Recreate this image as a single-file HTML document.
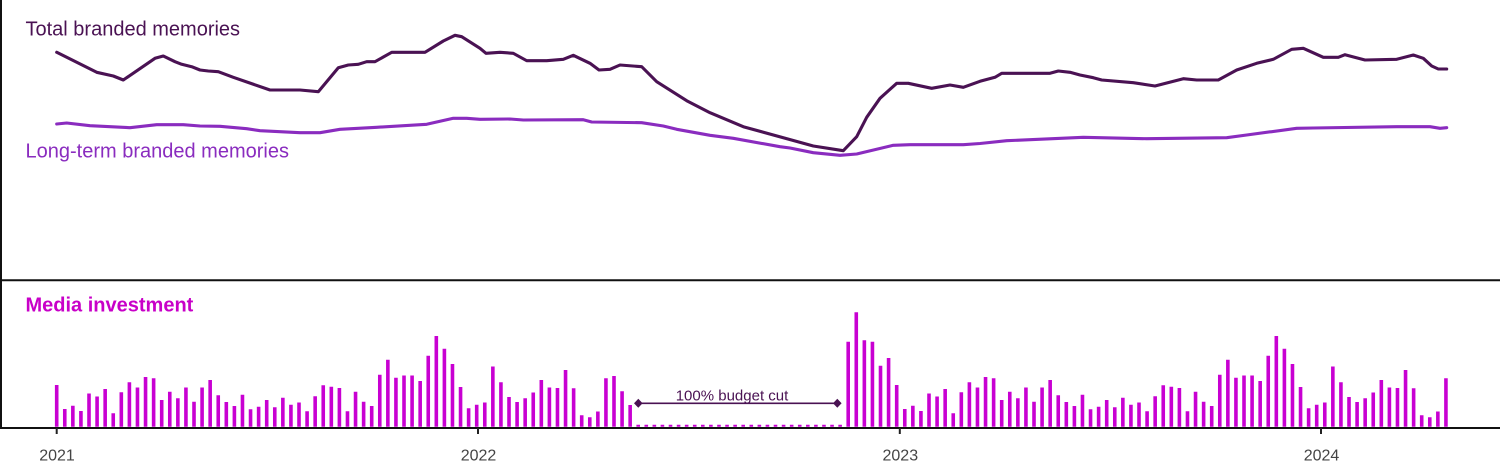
<!DOCTYPE html>
<html>
<head>
<meta charset="utf-8">
<style>
  html, body { margin: 0; padding: 0; background: #ffffff; }
  body { width: 1500px; height: 473px; overflow: hidden; }
  svg { display: block; }
  text { font-family: "Liberation Sans", Arial, sans-serif; }
</style>
</head>
<body>
<svg width="1500" height="473" viewBox="0 0 1500 473" xmlns="http://www.w3.org/2000/svg">
  <rect x="0" y="0" width="1500" height="473" fill="#ffffff"/>

  <line x1="1" y1="0" x2="1" y2="428" stroke="#111" stroke-width="2"/>
  <line x1="0" y1="280.3" x2="1500" y2="280.3" stroke="#111" stroke-width="2"/>

  <text x="25.5" y="35.7" font-size="20" fill="#4a1253">Total branded memories</text>
  <text x="25.5" y="157.5" font-size="20" fill="#8a2cbf">Long-term branded memories</text>
  <text x="25.5" y="311.7" font-size="20" font-weight="bold" fill="#c800c8">Media investment</text>

  <polyline fill="none" stroke="#8a2cbf" stroke-width="3.1" stroke-linejoin="round" stroke-linecap="round"
    points="56.7,124 66.7,123 90,125.7 130,127.7 156.7,124.7 183.3,124.7 200,126 220,126.3 246.7,128.7 260,130.7 300,132.7 320,132.7 340,129.3 376.7,127.3 426.7,124.3 453.3,118.3 466.7,118.3 480,119.3 510,119 523.3,120 583.3,119.7 591.7,122 641.7,122.7 663.3,126 676.7,129.3 710,135.3 733.3,138.3 780,146.7 790,148 813.3,152.7 840,155.3 856.7,154 893.3,145.3 910,144.7 963.3,144.7 980,143.5 1006.7,140.7 1083.3,137.3 1146.7,138.7 1226.7,137.7 1246.7,135 1296.7,128.3 1313.3,128 1396.7,126.7 1430,126.7 1440,128.3 1446.7,127.7"/>

  <polyline fill="none" stroke="#4a1253" stroke-width="3.1" stroke-linejoin="round" stroke-linecap="round"
    points="56.7,52.3 96.7,72.3 113.3,76 123.3,80 155,58.3 163.3,56 175,61.7 181.7,64.3 191.7,66.7 200,70 208.3,71 218.3,71.7 233.3,77.3 270,90 300,90 318.3,91.7 338.3,67.7 348.3,65 358.3,64.3 366.7,61.7 375,61.7 391.7,52.3 425,52.3 443.3,41 455,35.3 461.7,36.7 480,48.3 486,53.3 500,52.3 513.3,53.3 526.7,60.7 546.7,60.7 563.3,59.3 573.3,55.3 590,63.3 599,70 610,69.3 620,65 641.7,66.7 656.7,81.7 686.7,100.7 710,112.7 743.3,126.7 813.3,146 843.3,150.7 856.7,136.7 866.7,117.3 880,98.3 896.7,83.3 908.3,83.3 931.7,88.3 950,85 963.3,87.3 980,81.3 995,77.3 1001.7,73.3 1050,73.3 1058.3,71 1070,72.3 1080,75 1093.3,77.7 1101.7,80 1133.3,82.7 1155,86 1183.3,78.7 1196.7,80 1218.3,80 1236.7,70 1256.7,63.3 1273.3,59.3 1291.7,49.3 1303.3,48.3 1323.3,57.3 1338.3,57.3 1345,54.7 1365,60 1396.7,59.3 1413.3,55 1423.3,58.3 1431.7,66 1438.3,69 1446.7,69"/>

  <g fill="#c800d2">
    <path id="yearbars" d="M54.9 426.7v-41.7h3.6v41.7zm8.077 0v-17.7h3.6v17.7zm8.077 0v-21h3.6v21zm8.077 0v-15.7h3.6v15.7zm8.077 0v-33.2h3.6v33.2zm8.077 0v-30.2h3.6v30.2zm8.077 0v-37.7h3.6v37.7zm8.077 0v-13.4h3.6v13.4zm8.077 0v-34.4h3.6v34.4zm8.077 0v-44.4h3.6v44.4zm8.077 0v-39.2h3.6v39.2zm8.077 0v-49.7h3.6v49.7zm8.077 0v-48.5h3.6v48.5zm8.077 0v-26.7h3.6v26.7zm8.077 0v-35h3.6v35zm8.077 0v-28.4h3.6v28.4zm8.077 0v-39.2h3.6v39.2zm8.077 0v-24.9h3.6v24.9zm8.077 0v-39.2h3.6v39.2zm8.077 0v-46.7h3.6v46.7zm8.077 0v-31.5h3.6v31.5zm8.077 0v-24.7h3.6v24.7zm8.077 0v-20.7h3.6v20.7zm8.077 0v-32h3.6v32zm8.077 0v-17.4h3.6v17.4zm8.077 0v-19.9h3.6v19.9zm8.077 0v-26.7h3.6v26.7zm8.077 0v-19.4h3.6v19.4zm8.077 0v-28.9h3.6v28.9zm8.077 0v-21.9h3.6v21.9zm8.077 0v-24.2h3.6v24.2zm8.077 0v-15.5h3.6v15.5zm8.077 0v-30.5h3.6v30.5zm8.077 0v-41.4h3.6v41.4zm8.077 0v-39.9h3.6v39.9zm8.077 0v-38.7h3.6v38.7zm8.077 0v-15.4h3.6v15.4zm8.077 0v-35h3.6v35zm8.077 0v-25h3.6v25zm8.077 0v-20.7h3.6v20.7zm8.077 0v-52h3.6v52zm8.077 0v-66.9h3.6v66.9zm8.077 0v-49h3.6v49zm8.077 0v-51.2h3.6v51.2zm8.077 0v-51.2h3.6v51.2zm8.077 0v-45.7h3.6v45.7zm8.077 0v-71h3.6v71zm8.077 0v-90.7h3.6v90.7zm8.077 0v-77.9h3.6v77.9zm8.077 0v-62.7h3.6v62.7zm8.077 0v-39.7h3.6v39.7zm8.077 0v-18.5h3.6v18.5zm8.077 0v-22h3.6v22zm8.077 0v-24.2h3.6v24.2zm8.077 0v-60.2h3.6v60.2zm8.077 0v-44.5h3.6v44.5zm8.077 0v-29.7h3.6v29.7zm8.077 0v-24.7h3.6v24.7zm8.077 0v-28.4h3.6v28.4zm8.077 0v-34.2h3.6v34.2zm8.077 0v-46.7h3.6v46.7zm8.077 0v-39.2h3.6v39.2zm8.077 0v-38.7h3.6v38.7zm8.077 0v-56.7h3.6v56.7zm8.077 0v-38.5h3.6v38.5zm8.077 0v-11.5h3.6v11.5zm8.077 0v-9.4h3.6v9.4zm8.077 0v-15.2h3.6v15.2zm8.077 0v-48.5h3.6v48.5z"/>
    <path d="M612.2 426.7v-50.7h3.6v50.7zm8.077 0v-35.4h3.6v35.4zm8.077 0v-21.7h3.6v21.7z"/>
    <path d="M846.4 426.7v-85h3.6v85zm8.077 0v-114.4h3.6v114.4zm8.077 0v-86.4h3.6v86.4zm8.077 0v-85h3.6v85zm8.077 0v-61h3.6v61zm8.077 0v-68.7h3.6v68.7z"/>
    <use href="#yearbars" transform="translate(840,0)"/>
  </g>
  <line x1="636.4" y1="425.75" x2="842" y2="425.75" stroke="#c800d2" stroke-width="1.9" stroke-dasharray="3.6 4.477"/>

  <line x1="638.3" y1="403.3" x2="837.3" y2="403.3" stroke="#4a1253" stroke-width="1.7"/>
  <polygon points="638.3,398.8 642.6,403.3 638.3,407.8 634,403.3" fill="#4a1253"/>
  <polygon points="837.3,398.8 841.6,403.3 837.3,407.8 833,403.3" fill="#4a1253"/>
  <text x="732" y="400.5" font-size="15" fill="#4a1253" text-anchor="middle">100% budget cut</text>

  <line x1="0" y1="428" x2="1500" y2="428" stroke="#111" stroke-width="2"/>
  <path d="M56.7 428v6M478 428v6M899.8 428v6M1321 428v6" stroke="#222" stroke-width="2" fill="none"/>
  <g font-size="16" fill="#444" text-anchor="middle">
    <text x="57" y="460.7">2021</text>
    <text x="478.5" y="460.7">2022</text>
    <text x="900.3" y="460.7">2023</text>
    <text x="1321.5" y="460.7">2024</text>
  </g>
</svg>
</body>
</html>
